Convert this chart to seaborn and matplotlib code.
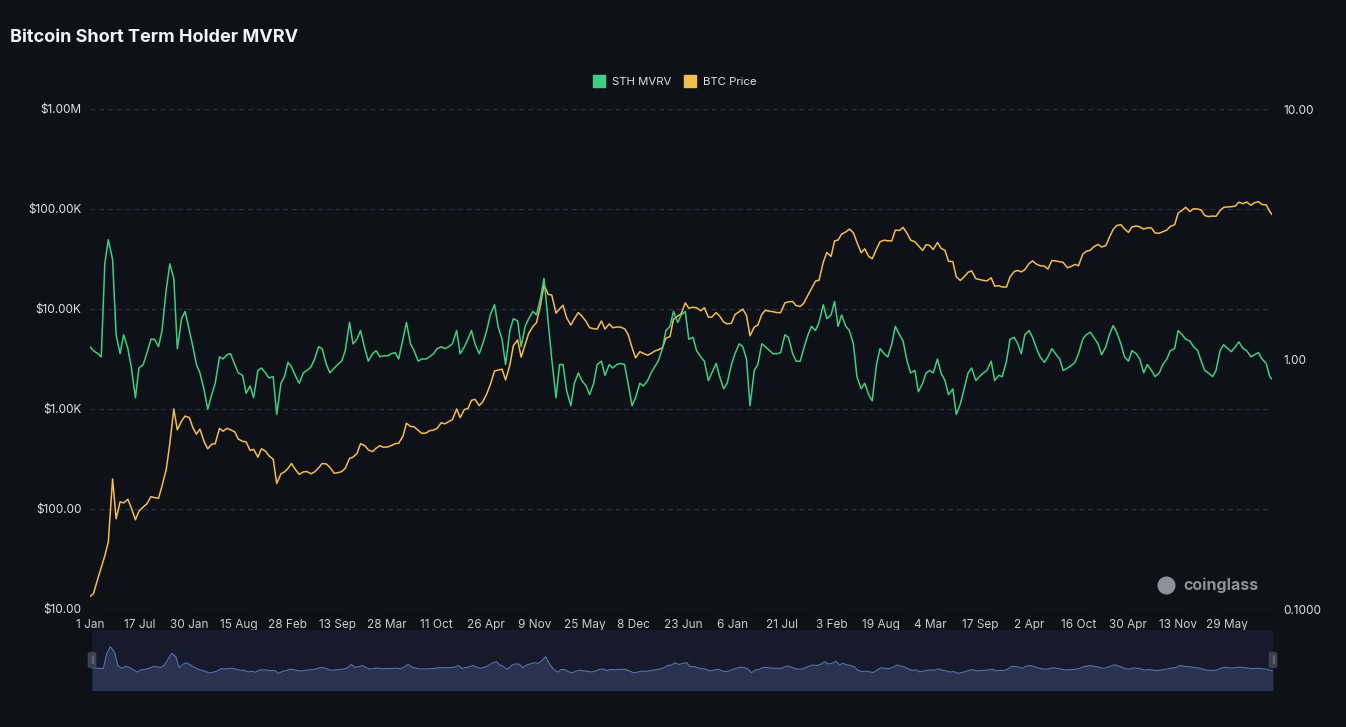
import pandas as pd
import seaborn as sns
import matplotlib.pyplot as plt
from matplotlib.lines import Line2D
from matplotlib.patches import FancyBboxPatch
from matplotlib.ticker import NullLocator

# semi-monthly readings (1st and 15th of each month), last point 24 Nov 2025
price_2013 = [13.3, 14.3, 20, 26, 34, 47, 200, 80, 118, 115, 125, 102, 78, 95, 105, 112, 133, 130, 128, 170, 250, 450, 1000, 620]
price_2014 = [760, 850, 820, 650, 560, 630, 470, 400, 445, 450, 640, 600, 640, 620, 590, 500, 475, 470, 385, 395, 330, 400, 380, 340]
price_2015 = [315, 180, 225, 235, 255, 285, 245, 222, 235, 237, 225, 235, 258, 285, 282, 260, 228, 230, 237, 255, 320, 330, 360, 450]
price_2016 = [430, 390, 375, 405, 430, 415, 417, 430, 450, 455, 535, 720, 670, 665, 610, 570, 575, 607, 615, 640, 730, 710, 750, 780]
price_2017 = [1000, 820, 990, 1010, 1220, 1250, 1080, 1180, 1420, 1750, 2400, 2450, 2500, 1950, 2750, 4300, 4900, 3300, 4400, 5700, 6700, 7300, 10900, 17500]
price_2018 = [14000, 13800, 9100, 10000, 10900, 8200, 6900, 8000, 9200, 8500, 7500, 6500, 6350, 6300, 7600, 6300, 7100, 6500, 6600, 6600, 6350, 5600, 4100, 3250]
price_2019 = [3750, 3600, 3450, 3600, 3800, 3900, 4100, 5100, 5300, 7900, 8500, 9000, 11500, 10200, 10400, 10300, 9600, 10300, 8300, 8300, 9200, 8500, 7400, 7100]
price_2020 = [7200, 8800, 9400, 10000, 8600, 5400, 6600, 6900, 8800, 9700, 9500, 9400, 9200, 9200, 11500, 11800, 11900, 10800, 10600, 11400, 13800, 16000, 19000, 19400]
price_2021 = [29400, 36800, 33500, 48000, 49000, 56000, 59000, 63000, 57800, 46500, 36500, 40000, 33500, 31800, 39800, 47000, 48800, 48100, 48000, 61500, 61000, 65500, 57000, 48800]
price_2022 = [47000, 43000, 38500, 44000, 43200, 39300, 46300, 40500, 38500, 30000, 29800, 21000, 19300, 20800, 23300, 24100, 20100, 19700, 19300, 19100, 20500, 16900, 17100, 16600]
price_2023 = [16600, 20900, 23700, 24300, 23500, 24700, 28500, 30300, 28000, 27100, 26800, 25100, 30500, 30300, 29700, 29200, 25800, 26600, 27900, 27100, 35400, 37800, 38700, 42000]
price_2024 = [44200, 41700, 43100, 52000, 62400, 68300, 69700, 63400, 58300, 66200, 67700, 66200, 62900, 64800, 64600, 57500, 57300, 59200, 61600, 67000, 69500, 91000, 97000, 104000]
price_2025 = [94400, 100500, 100000, 97500, 86000, 84000, 85000, 84500, 96500, 103700, 105000, 105500, 107000, 117000, 113000, 117500, 109000, 115500, 118500, 111000, 110000, 94500, 88000]

mvrv_2013 = [1.12, 1.08, 1.05, 1.02, 2.4, 3.0, 2.5, 1.25, 1.05, 1.25, 1.1, 0.92, 0.7, 0.92, 0.95, 1.05, 1.2, 1.2, 1.12, 1.3, 1.9, 2.4, 2.1, 1.1]
mvrv_2014 = [1.45, 1.55, 1.3, 1.12, 0.95, 0.88, 0.75, 0.63, 0.72, 0.8, 1.02, 1.0, 1.04, 1.05, 0.95, 0.88, 0.86, 0.73, 0.78, 0.7, 0.9, 0.92, 0.88, 0.84]
mvrv_2015 = [0.85, 0.6, 0.8, 0.85, 0.97, 0.93, 0.85, 0.8, 0.88, 0.9, 0.93, 1.0, 1.12, 1.1, 0.95, 0.88, 0.92, 0.95, 0.98, 1.08, 1.4, 1.15, 1.2, 1.3]
mvrv_2016 = [1.1, 0.98, 1.05, 1.08, 1.02, 1.03, 1.03, 1.05, 1.06, 1.0, 1.2, 1.4, 1.15, 1.08, 0.98, 1.0, 1.0, 1.02, 1.05, 1.1, 1.12, 1.1, 1.12, 1.15]
mvrv_2017 = [1.3, 1.05, 1.12, 1.2, 1.3, 1.15, 1.05, 1.15, 1.3, 1.5, 1.65, 1.35, 1.2, 0.95, 1.3, 1.45, 1.42, 1.12, 1.35, 1.45, 1.55, 1.5, 1.75, 2.1]
mvrv_2018 = [1.4, 1.0, 0.7, 0.95, 0.95, 0.75, 0.65, 0.8, 0.88, 0.82, 0.78, 0.72, 0.8, 0.95, 0.98, 0.86, 0.95, 0.92, 0.95, 0.96, 0.95, 0.8, 0.65, 0.7]
mvrv_2019 = [0.8, 0.78, 0.82, 0.88, 0.93, 0.98, 1.1, 1.3, 1.35, 1.55, 1.4, 1.5, 1.55, 1.2, 1.22, 1.08, 1.02, 0.98, 0.82, 0.88, 0.96, 0.85, 0.76, 0.8]
mvrv_2020 = [0.95, 1.05, 1.15, 1.12, 1.0, 0.65, 0.9, 0.95, 1.15, 1.12, 1.08, 1.05, 1.05, 1.06, 1.25, 1.22, 1.05, 0.98, 0.98, 1.1, 1.25, 1.35, 1.3, 1.4]
mvrv_2021 = [1.65, 1.45, 1.5, 1.7, 1.35, 1.5, 1.35, 1.3, 1.15, 0.85, 0.76, 0.8, 0.72, 0.68, 0.95, 1.1, 1.05, 1.02, 1.15, 1.35, 1.25, 1.18, 0.98, 0.88]
mvrv_2022 = [0.9, 0.74, 0.8, 0.88, 0.9, 0.88, 1.0, 0.88, 0.82, 0.72, 0.76, 0.6, 0.66, 0.75, 0.88, 0.92, 0.82, 0.85, 0.88, 0.9, 0.98, 0.82, 0.86, 0.85]
mvrv_2023 = [0.98, 1.2, 1.22, 1.15, 1.05, 1.25, 1.3, 1.22, 1.1, 1.02, 0.97, 1.02, 1.1, 1.05, 1.0, 0.9, 0.92, 0.94, 0.97, 1.05, 1.2, 1.25, 1.28, 1.22]
mvrv_2024 = [1.15, 1.04, 1.12, 1.25, 1.36, 1.28, 1.15, 1.02, 0.98, 1.08, 1.05, 1.0, 0.88, 0.95, 0.9, 0.85, 0.88, 0.95, 1.0, 1.08, 1.1, 1.3, 1.25, 1.2]
mvrv_2025 = [1.18, 1.12, 1.08, 0.98, 0.9, 0.88, 0.85, 0.9, 1.08, 1.14, 1.1, 1.07, 1.12, 1.17, 1.1, 1.08, 1.02, 1.04, 1.06, 1.0, 0.96, 0.85, 0.83]

price_ticks = [10, 100, 1e3, 1e4, 1e5, 1e6]
price_labels = ["$10.00", "$100.00", "$1.00K", "$10.00K", "$100.00K", "$1.00M"]
mvrv_ticks = [0.1, 1, 10]
mvrv_labels = ["0.1000", "1.00", "10.00"]
x_labels = ["1 Jan", "17 Jul", "30 Jan", "15 Aug", "28 Feb", "13 Sep", "28 Mar", "11 Oct",
            "26 Apr", "9 Nov", "25 May", "8 Dec", "23 Jun", "6 Jan", "21 Jul", "3 Feb",
            "19 Aug", "4 Mar", "17 Sep", "2 Apr", "16 Oct", "30 Apr", "13 Nov", "29 May"]

dates = list(pd.date_range("2013-01-01", "2025-11-15", freq="SMS")) + [pd.Timestamp("2025-11-24")]
price = (price_2013 + price_2014 + price_2015 + price_2016 + price_2017 + price_2018 + price_2019
         + price_2020 + price_2021 + price_2022 + price_2023 + price_2024 + price_2025)
mvrv = (mvrv_2013 + mvrv_2014 + mvrv_2015 + mvrv_2016 + mvrv_2017 + mvrv_2018 + mvrv_2019
        + mvrv_2020 + mvrv_2021 + mvrv_2022 + mvrv_2023 + mvrv_2024 + mvrv_2025)
df = pd.DataFrame({"date": dates, "price": price, "mvrv": mvrv})
x_ticks = pd.date_range("2013-01-01", periods=len(x_labels), freq="197D")

BG = "#0e1118"
GREEN = "#3ccf82"
YELLOW = "#f3bd4c"
TEXT = "#dfe1e6"
GRID = "#2a2e38"

sns.set_theme(style="dark", rc={"axes.facecolor": BG, "figure.facecolor": BG,
                                "axes.edgecolor": BG, "text.color": TEXT,
                                "xtick.color": TEXT, "ytick.color": TEXT})
plt.rcParams["font.family"] = ["Inter", "DejaVu Sans"]

W, H = 1346, 727
fig = plt.figure(figsize=(W / 100, H / 100), dpi=100, facecolor=BG)

# main chart
ax = fig.add_axes([90 / W, 1 - 609 / H, (1272 - 90) / W, 500 / H])
sns.lineplot(data=df, x="date", y="price", ax=ax, color=YELLOW, linewidth=1.1)
ax.set_yscale("log")
ax.set_ylim(10, 1e6)
ax.set_xlim(df["date"].iloc[0], df["date"].iloc[-1])
ax.set_yticks(price_ticks, price_labels)
ax.yaxis.set_minor_locator(NullLocator())
ax.set_xticks(x_ticks, x_labels)
ax.grid(axis="y", color=GRID, linestyle=(0, (4, 3)), linewidth=0.9)
ax.grid(axis="x", visible=False)
ax.tick_params(axis="y", length=0, pad=6, labelsize=8.5, labelcolor=TEXT)
ax.tick_params(axis="x", length=4, width=0.8, color="#3a3f4b", pad=3, labelsize=8.5, labelcolor="#c9ccd3")
ax.set_xlabel("")
ax.set_ylabel("")
for s in ax.spines.values():
    s.set_visible(False)

ax2 = ax.twinx()
sns.lineplot(data=df, x="date", y="mvrv", ax=ax2, color=GREEN, linewidth=1.1)
ax2.set_yscale("log")
ax2.set_ylim(0.1, 10)
ax2.set_yticks(mvrv_ticks, mvrv_labels)
ax2.yaxis.set_minor_locator(NullLocator())
ax2.tick_params(axis="y", length=0, pad=8, labelsize=8.5, labelcolor=TEXT)
ax2.set_ylabel("")
ax2.grid(False)
for s in ax2.spines.values():
    s.set_visible(False)

# title, legend, watermark
fig.text(10 / W, 1 - 37 / H, "Bitcoin Short Term Holder MVRV", fontsize=13,
         fontweight="bold", color="#f2f3f6", va="center")
handles = [Line2D([], [], marker="s", linestyle="none", markersize=8, color=GREEN, label="STH MVRV"),
           Line2D([], [], marker="s", linestyle="none", markersize=8, color=YELLOW, label="BTC Price")]
fig.legend(handles=handles, loc="center", bbox_to_anchor=(672 / W, 1 - 82 / H), ncol=2,
           frameon=False, labelcolor=TEXT, fontsize=8.2, handletextpad=0.1, columnspacing=0.7)
fig.add_artist(Line2D([1166 / W], [1 - 585 / H], marker="o", markersize=12,
                      color="#8d9098", transform=fig.transFigure))
fig.text(1183 / W, 1 - 585 / H, "coinglass", fontsize=11.5, fontweight="bold",
         color="#8d9098", va="center")

# range navigator
nav = fig.add_axes([92 / W, 1 - 690 / H, (1273 - 92) / W, 60 / H])
nav.set_facecolor("#151b2b")
nav.fill_between(df["date"], df["mvrv"], -1, color="#29324f", linewidth=0)
sns.lineplot(data=df, x="date", y="mvrv", ax=nav, color="#5a6fae", linewidth=0.8)
nav.set_xlim(df["date"].iloc[0], df["date"].iloc[-1])
nav.set_ylim(-0.9, 4.5)
nav.set_xticks([])
nav.set_yticks([])
nav.set_xlabel("")
nav.set_ylabel("")
nav.grid(False)
for s in nav.spines.values():
    s.set_visible(False)
for hx in (92, 1273):
    fig.add_artist(FancyBboxPatch(((hx - 4) / W, 1 - 668 / H), 8 / W, 16 / H,
                                  boxstyle="round,pad=0,rounding_size=0.003",
                                  transform=fig.transFigure, facecolor="#3a404d",
                                  edgecolor="#50566380", linewidth=0.6))
    fig.text(hx / W, 1 - 660 / H, "||", fontsize=5, color="#8a8f99", ha="center", va="center")

fig.savefig("out.png", dpi=100, facecolor=BG)
